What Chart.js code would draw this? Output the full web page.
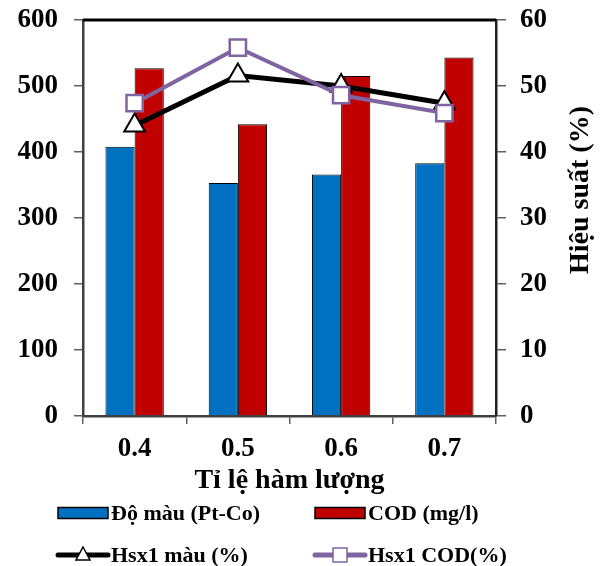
<!DOCTYPE html>
<html>
<head>
<meta charset="utf-8">
<script src="https://cdn.jsdelivr.net/npm/chart.js@4/dist/chart.umd.min.js"></script>
<style>
html,body{margin:0;padding:0;background:#fff;}
#wrap{width:602px;height:566px;position:relative;}
</style>
</head>
<body>
<div id="wrap"><canvas id="c" width="602" height="566"></canvas></div>
<script>
const categories = ['0.4', '0.5', '0.6', '0.7'];
const doMau = [408, 353, 366, 383];
const cod = [527, 442, 515, 543];
const hsxMau = [44.0, 51.6, 50.0, 47.4];
const hsxCod = [47.4, 55.8, 48.6, 45.9];
const leftTicks = [0, 100, 200, 300, 400, 500, 600];
const rightTicks = [0, 10, 20, 30, 40, 50, 60];
const seriesNames = ['Độ màu (Pt-Co)', 'COD (mg/l)', 'Hsx1 màu (%)', 'Hsx1 COD(%)'];
const xTitle = 'Tỉ lệ hàm lượng';
const yRightTitle = 'Hiệu suất (%)';

const FONT = '"Liberation Serif", "Times New Roman", serif';
const BLUE = '#0070C0', RED = '#C00000', PURPLE = '#8064A2';

const framePlugin = {
  id: 'frame',
  afterDatasetsDraw(chart) {
    const {ctx, chartArea: a} = chart;
    ctx.save();
    ctx.strokeStyle = '#000';
    ctx.lineWidth = 3;
    ctx.beginPath();
    ctx.moveTo(a.left, a.top);
    ctx.lineTo(a.right, a.top);
    ctx.stroke();
    ctx.restore();
  },
  afterDraw(chart) {
    const {ctx} = chart;
    ctx.save();
    ctx.font = 'bold 28px ' + FONT;
    ctx.fillStyle = '#000';
    ctx.textAlign = 'center';
    ctx.textBaseline = 'middle';
    ctx.translate(581, 190);
    ctx.rotate(-Math.PI / 2);
    ctx.fillText(yRightTitle, 0, 0);
    ctx.restore();

    const items = [
      {type: 'bar', color: BLUE, x: 58, y: 513},
      {type: 'bar', color: RED, x: 315, y: 513},
      {type: 'line', color: '#000', marker: 'triangle', x: 58, y: 555},
      {type: 'line', color: PURPLE, marker: 'square', x: 315, y: 555}
    ];
    ctx.save();
    items.forEach((it, i) => {
      const w = 50;
      if (it.type === 'bar') {
        ctx.fillStyle = it.color;
        ctx.fillRect(it.x, it.y - 5.5, w, 11);
        ctx.strokeStyle = '#000';
        ctx.lineWidth = 1.5;
        ctx.strokeRect(it.x, it.y - 5.5, w, 11);
      } else {
        ctx.strokeStyle = it.color;
        ctx.lineWidth = 5;
        ctx.lineCap = 'round';
        ctx.beginPath();
        ctx.moveTo(it.x, it.y);
        ctx.lineTo(it.x + w, it.y);
        ctx.stroke();
        const cx = it.x + w / 2, cy = it.y;
        ctx.fillStyle = '#fff';
        ctx.lineWidth = 1.5;
        ctx.beginPath();
        if (it.marker === 'triangle') {
          ctx.strokeStyle = '#000';
          ctx.moveTo(cx, cy - 8);
          ctx.lineTo(cx + 7, cy + 5);
          ctx.lineTo(cx - 7, cy + 5);
          ctx.closePath();
        } else {
          ctx.strokeStyle = PURPLE;
          ctx.rect(cx - 7, cy - 7, 14, 14);
        }
        ctx.fill();
        ctx.stroke();
      }
      ctx.fillStyle = '#000';
      ctx.font = 'bold 22px ' + FONT;
      ctx.textAlign = 'left';
      ctx.textBaseline = 'middle';
      ctx.fillText(seriesNames[i], it.x + w + 3, it.y + 1);
    });
    ctx.restore();
  }
};

new Chart(document.getElementById('c'), {
  type: 'bar',
  data: {
    labels: categories,
    datasets: [
      {type: 'line', label: seriesNames[2], data: hsxMau, yAxisID: 'y1',
       borderColor: '#000', borderWidth: 5, pointStyle: 'triangle', pointRadius: 12,
       pointBackgroundColor: '#fff', pointBorderColor: '#000', pointBorderWidth: 2, order: 1},
      {type: 'line', label: seriesNames[3], data: hsxCod, yAxisID: 'y1',
       borderColor: PURPLE, borderWidth: 4, pointStyle: 'rect', pointRadius: 11.5,
       pointBackgroundColor: '#fff', pointBorderColor: PURPLE, pointBorderWidth: 2.5, order: 0},
      {label: seriesNames[0], data: doMau, yAxisID: 'y', backgroundColor: BLUE,
       borderColor: '#000', borderWidth: 1, order: 2},
      {label: seriesNames[1], data: cod, yAxisID: 'y', backgroundColor: RED,
       borderColor: '#000', borderWidth: 1, order: 3}
    ]
  },
  options: {
    responsive: false,
    animation: false,
    layout: {padding: {top: 20, bottom: 68, left: 0, right: 0}},
    categoryPercentage: 0.565,
    barPercentage: 1,
    plugins: {legend: {display: false}, tooltip: {enabled: false}},
    scales: {
      x: {
        offset: true,
        grid: {offset: true, drawOnChartArea: false, drawTicks: true, tickLength: 8, color: '#606060', lineWidth: 1.5},
        border: {display: true, color: '#404040', width: 2.5},
        ticks: {font: {family: FONT, size: 27, weight: 'bold'}, color: '#000', padding: 9, maxRotation: 0},
        title: {display: true, text: xTitle, font: {family: FONT, size: 28, weight: 'bold'}, color: '#000', padding: 0},
        afterFit(s) { s.height = 82; s.paddingLeft = 0; s.paddingRight = 0; }
      },
      y: {
        position: 'left', min: 0, max: 600,
        afterBuildTicks(s) { s.ticks = leftTicks.map(v => ({value: v})); },
        grid: {drawOnChartArea: false, drawTicks: true, tickLength: 9, color: '#606060', lineWidth: 1.5},
        border: {display: true, color: '#404040', width: 2.5},
        ticks: {font: {family: FONT, size: 27, weight: 'bold'}, color: '#000', padding: 16},
        afterFit(s) { s.width = 83; s.paddingTop = 0; s.paddingBottom = 0; }
      },
      y1: {
        position: 'right', min: 0, max: 60,
        afterBuildTicks(s) { s.ticks = rightTicks.map(v => ({value: v})); },
        grid: {drawOnChartArea: false, drawTicks: true, tickLength: 10, color: '#606060', lineWidth: 1.5},
        border: {display: true, color: '#202020', width: 2.5},
        ticks: {font: {family: FONT, size: 27, weight: 'bold'}, color: '#000', padding: 14},
        afterFit(s) { s.width = 106; s.paddingTop = 0; s.paddingBottom = 0; }
      }
    }
  },
  plugins: [framePlugin]
});
</script>
</body>
</html>
